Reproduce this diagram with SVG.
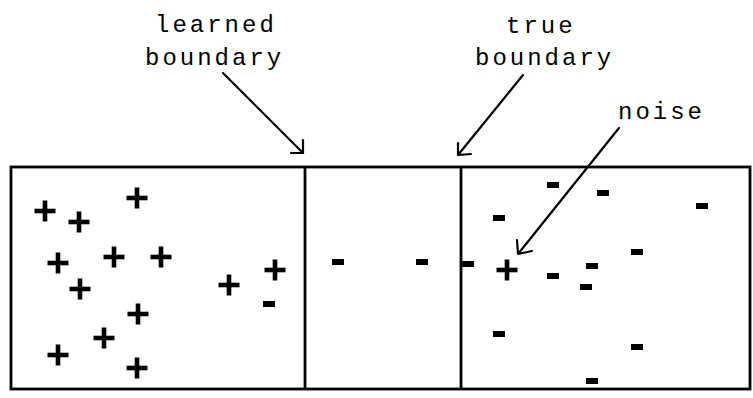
<svg xmlns="http://www.w3.org/2000/svg" xmlns:xlink="http://www.w3.org/1999/xlink" width="753" height="398" viewBox="0 0 753 398">
<style>
.lbl{font-family:"Liberation Mono","Courier New",monospace;font-size:24px;letter-spacing:3px;fill:#000}
.frame{fill:none;stroke:#000;stroke-width:2.8}
.arr{fill:none;stroke:#000;stroke-width:2.2;stroke-linecap:round;stroke-linejoin:round}
</style>
<defs>
<g id="plus"><rect x="-10.5" y="-2.3" width="21" height="4.6"/><rect x="-2.3" y="-10.5" width="4.6" height="21"/></g>
<rect id="minus" x="-6" y="-3" width="12" height="6"/>
</defs>
<rect width="753" height="398" fill="#fff"/>
<g id="box">
<rect class="frame" x="11" y="167" width="739" height="222"/>
<line class="frame" x1="305" y1="167" x2="305" y2="389"/>
<line class="frame" x1="461" y1="167" x2="461" y2="389"/>
</g>
<g id="label-learned"><text class="lbl" x="155" y="32">learned</text><text class="lbl" x="145" y="65">boundary</text></g>
<g id="label-true"><text class="lbl" x="506" y="33">true</text><text class="lbl" x="475" y="65">boundary</text></g>
<g id="label-noise"><text class="lbl" x="618" y="119">noise</text></g>
<g id="connectors">
<path class="arr" d="M223,73 L303,153 M291,153 L303,153 L303,140"/>
<path class="arr" d="M523,75 L458,155 M458,143 L458,155 L471,154"/>
<path class="arr" d="M619,128 L518,254 M517,240 L518,254 L532,251"/>
</g>
<g id="points">
<use xlink:href="#plus" x="45" y="211"/>
<use xlink:href="#plus" x="79" y="222"/>
<use xlink:href="#plus" x="137" y="198"/>
<use xlink:href="#plus" x="58" y="263"/>
<use xlink:href="#plus" x="114" y="257"/>
<use xlink:href="#plus" x="161" y="257"/>
<use xlink:href="#plus" x="80" y="289"/>
<use xlink:href="#plus" x="138" y="314"/>
<use xlink:href="#plus" x="104" y="338"/>
<use xlink:href="#plus" x="58" y="355"/>
<use xlink:href="#plus" x="137" y="368"/>
<use xlink:href="#plus" x="229" y="285"/>
<use xlink:href="#plus" x="275" y="270"/>
<use xlink:href="#plus" x="507" y="270"/>
<use xlink:href="#minus" x="269" y="304"/>
<use xlink:href="#minus" x="338" y="262"/>
<use xlink:href="#minus" x="422" y="262"/>
<use xlink:href="#minus" x="468" y="264"/>
<use xlink:href="#minus" x="499" y="218"/>
<use xlink:href="#minus" x="553" y="185"/>
<use xlink:href="#minus" x="603" y="193"/>
<use xlink:href="#minus" x="702" y="206"/>
<use xlink:href="#minus" x="637" y="252"/>
<use xlink:href="#minus" x="592" y="266"/>
<use xlink:href="#minus" x="553" y="276"/>
<use xlink:href="#minus" x="586" y="287"/>
<use xlink:href="#minus" x="499" y="334"/>
<use xlink:href="#minus" x="637" y="347"/>
<use xlink:href="#minus" x="592" y="381"/>
</g>
</svg>
